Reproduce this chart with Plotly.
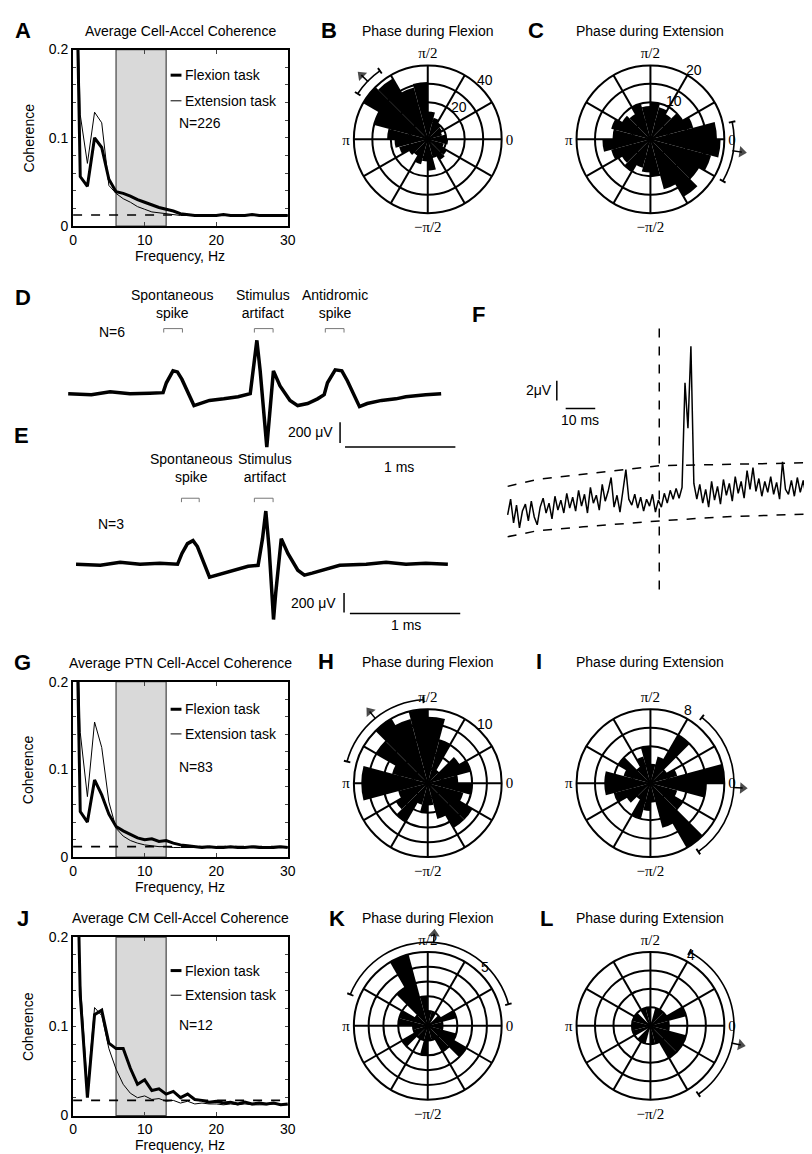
import plotly.graph_objects as go
import numpy as np

W, H = 812, 1154
SANS = "Liberation Sans"
SERIF = "Liberation Serif"

# ---------------- coherence spectra (A, G, J), ~1 Hz resolution
freq = np.arange(0, 31)

all_flex = [0.50, 0.056, 0.045, 0.100, 0.089, 0.053, 0.039, 0.037, 0.034, 0.030, 0.027,
            0.024, 0.021, 0.019, 0.017, 0.014, 0.013, 0.012, 0.012, 0.012, 0.012,
            0.013, 0.012, 0.012, 0.012, 0.013, 0.012, 0.012, 0.012, 0.012, 0.012]
all_ext = [0.45, 0.126, 0.071, 0.129, 0.117, 0.046, 0.037, 0.031, 0.027, 0.022, 0.019,
           0.016, 0.015, 0.014, 0.013, 0.012, 0.012, 0.012, 0.012, 0.012, 0.012,
           0.012, 0.012, 0.012, 0.012, 0.012, 0.012, 0.012, 0.012, 0.012, 0.012]
all_sig = 0.0125

ptn_flex = [0.50, 0.052, 0.040, 0.088, 0.071, 0.049, 0.035, 0.030, 0.026, 0.022, 0.020,
            0.021, 0.018, 0.019, 0.016, 0.014, 0.013, 0.012, 0.011, 0.012, 0.011,
            0.011, 0.012, 0.011, 0.011, 0.012, 0.011, 0.011, 0.011, 0.012, 0.011]
ptn_ext = [0.45, 0.142, 0.069, 0.154, 0.125, 0.063, 0.033, 0.024, 0.019, 0.016, 0.014,
           0.013, 0.012, 0.012, 0.011, 0.011, 0.011, 0.011, 0.011, 0.011, 0.011,
           0.011, 0.011, 0.011, 0.011, 0.011, 0.011, 0.011, 0.011, 0.011, 0.011]
ptn_sig = 0.012

cm_flex = [0.50, 0.135, 0.020, 0.113, 0.118, 0.081, 0.075, 0.075, 0.053, 0.035, 0.040,
           0.028, 0.030, 0.024, 0.027, 0.020, 0.024, 0.018, 0.017, 0.015, 0.016,
           0.014, 0.015, 0.013, 0.015, 0.013, 0.014, 0.013, 0.014, 0.012, 0.013]
cm_ext = [0.45, 0.150, 0.030, 0.121, 0.112, 0.075, 0.052, 0.035, 0.025, 0.020, 0.022,
          0.018, 0.019, 0.016, 0.017, 0.014, 0.016, 0.013, 0.014, 0.013, 0.013,
          0.012, 0.013, 0.012, 0.013, 0.012, 0.012, 0.012, 0.013, 0.012, 0.012]
cm_sig = 0.017

coh_yticks = [0, 0.02, 0.04, 0.06, 0.08, 0.1, 0.12, 0.14, 0.16, 0.18, 0.2]
coh_ylabels = ["0", "", "", "", "", "0.1", "", "", "", "", "0.2"]

# ---------------- spike-triggered traces (D, E), ms / microvolt
d_t = [0, 0.21, 0.38, 0.56, 0.74, 0.86, 0.89, 0.95, 0.99, 1.03, 1.14, 1.19, 1.28, 1.41, 1.54,
       1.65, 1.71, 1.74, 1.80, 1.86, 1.92, 2.01, 2.08, 2.17, 2.26, 2.32, 2.35, 2.42, 2.48,
       2.53, 2.64, 2.71, 2.84, 2.97, 3.06, 3.24, 3.38]
d_v = [0, -10, 19, 0, 5, 10, 105, 220, 210, 140, -115, -95, -65, -50, -30,
       0, 515, 220, -515, 220, 75, -65, -115, -95, -50, -10, 105, 230, 220,
       125, -125, -95, -65, -50, -30, -10, 0]

e_t = [0, 0.22, 0.40, 0.58, 0.76, 0.92, 0.96, 1.01, 1.06, 1.10, 1.21, 1.30, 1.43, 1.56, 1.65,
       1.69, 1.72, 1.75, 1.79, 1.81, 1.86, 1.92, 2.01, 2.07, 2.14, 2.28, 2.39, 2.63, 2.81,
       2.99, 3.17, 3.37]
e_v = [0, -10, 20, 0, 10, 0, 110, 210, 240, 180, -130, -100, -60, -20, -10,
       260, 540, 160, -560, -290, 260, 110, -60, -110, -90, -40, -10, 0, 20,
       0, 10, 0]

# ---------------- post-stimulus average (F), 1 ms bins, microvolt
f_t = np.arange(103) - 51.3
f_v = [-0.6, 1.0, -1.4, 0.4, -1.9, -0.2, 0.5, -1.2, 0.8, -0.8, -1.6, 0.2, 1.1, -0.4, 0.6, -1.0,
       1.3, -0.1, 0.9, -0.4,
       1.6, 0.1, 1.2, -0.2, 1.9, 0.3, 1.5, -0.4, 2.2, 0.6, 1.4, -0.1, 2.5, 0.8, 1.8, 3.2,
       0.2, 1.4, -0.3, 1.7,
       4.0, 1.0, 0.4, 1.5, 0.1, 1.2, -0.2, 1.0, 0.3, 1.5, -0.3, 0.9, 0.2, 1.6, 0.6, 1.9,
       1.0, 2.1, 1.1, 2.2,
       12.8, 8.2, 16.5,
       2.6, 1.0, 2.5, 0.6, 2.0, 0.2, 2.8, 0.9, 2.3, 0.5, 3.0, 1.4, 2.6, 0.8, 3.3, 1.6,
       2.8, 1.1, 3.9, 2.0, 4.2, 1.8, 3.1, 1.3, 2.8, 1.7, 3.3, 1.5, 2.7, 1.0, 4.8, 2.0,
       1.5, 2.9, 1.3, 3.2, 1.7, 2.9, 1.2, 2.4]
f_hi_t = [-51.3, -41.3, 0, 51]
f_hi_v = [2.3, 3.0, 4.4, 4.7]
f_lo_t = [-51.3, -41.3, -25.7, 0, 21, 51]
f_lo_v = [-2.8, -2.2, -1.8, -1.2, -0.8, -0.5]

# ---------------- phase histograms (B, C, H, I, K, L), 24 bins of 15 deg
bin_deg = np.arange(7.5, 360, 15)
b_counts = [10, 8, 9, 10, 12, 15, 31, 29, 38, 40, 30, 22, 18, 16, 12, 10, 14, 12, 17, 10, 13, 12, 9, 11]
c_counts = [18, 12, 10, 8, 9, 10, 9, 10, 8, 9, 11, 10, 13, 11, 9, 10, 8, 9, 10, 14, 18, 15, 17, 19]
h_counts = [4, 6, 5, 2, 6, 9, 10, 9, 10, 8, 5, 9, 9, 4, 5, 6, 3, 4, 3, 5, 7, 7, 5, 6]
i_counts = [8, 3, 2, 6, 3, 2, 4, 3, 2, 4, 3, 5, 5, 4, 3, 2, 4, 3, 2, 5, 8, 4, 3, 6]
k_counts = [1, 2, 1, 0, 1, 1, 2, 5, 3, 1, 2, 2, 1, 1, 2, 1, 1, 2, 1, 1, 2, 3, 2, 1]
l_counts = [1, 2, 1, 1, 1, 0, 1, 1, 0, 1, 1, 1, 1, 1, 0, 1, 1, 0, 1, 1, 2, 2, 2, 1]

# mean phase and confidence limits, degrees
b_phase = (136, 125, 147)
c_phase = (-8, -30, 12)
h_phase = (129, 93, 165)
i_phase = (-3, -55, 52)
k_phase = (86, 15, 158)
l_phase = (-12, -55, 62)

spoke_deg = [0, 30, 60, 90, 120, 150, 180, 210, 240, 270, 300, 330]
spoke_txt = ["0", "", "", "π/2", "", "", "π", "", "", "−π/2", "", ""]

fig = go.Figure()


def px(x, y):
    return x / W, 1 - y / H


def note(x, y, text, size=14, family=SANS, xanchor="center", angle=0, bold=False):
    xx, yy = px(x, y)
    fig.add_annotation(x=xx, y=yy, xref="paper", yref="paper", text=f"<b>{text}</b>" if bold else text,
                       showarrow=False, xanchor=xanchor, yanchor="middle", textangle=angle,
                       font=dict(family=family, size=size, color="black"))


def pline(x0, y0, x1, y1, width=1.0, color="black"):
    a, b = px(x0, y0)
    c, d = px(x1, y1)
    fig.add_shape(type="line", xref="paper", yref="paper", x0=a, y0=b, x1=c, y1=d,
                  line=dict(color=color, width=width))


def bracket(x0, x1, y, color="#777"):
    a, b = px(x0, y + 4)
    c, d = px(x1, y)
    fig.add_shape(type="path", xref="paper", yref="paper",
                  path=f"M {a} {b} L {a} {d} L {c} {d} L {c} {b}",
                  line=dict(color=color, width=1))


# ---------------- coherence panels
coh_panels = [
    (1, 34, 213, all_flex, all_ext, all_sig, "Average Cell-Accel Coherence", "A", "N=226", (60, 86, 108)),
    (2, 675, 853, ptn_flex, ptn_ext, ptn_sig, "Average PTN Cell-Accel Coherence", "G", "N=83", (703, 728, 762)),
    (3, 934, 1115, cm_flex, cm_ext, cm_sig, "Average CM Cell-Accel Coherence", "J", "N=12", (968, 993, 1023)),
]
layout_axes = {}
for n, top, bot, flex, ext, sig, title, letter, ntxt, leg in coh_panels:
    xname = "x" if n == 1 else f"x{n}"
    yname = "y" if n == 1 else f"y{n}"
    fig.add_trace(go.Scatter(x=freq, y=ext, mode="lines", line=dict(color="black", width=1),
                             xaxis=xname, yaxis=yname))
    fig.add_trace(go.Scatter(x=freq, y=flex, mode="lines", line=dict(color="black", width=3),
                             xaxis=xname, yaxis=yname))
    fig.add_trace(go.Scatter(x=[0, 30], y=[sig, sig], mode="lines",
                             line=dict(color="black", width=1.6, dash="dash"),
                             xaxis=xname, yaxis=yname))
    layout_axes["xaxis" if n == 1 else f"xaxis{n}"] = dict(
        domain=[62 / W, 280 / W], range=[0, 30], tickvals=[0, 10, 20, 30], ticks="inside",
        ticklen=4, showline=True, linewidth=2, linecolor="black", mirror="ticks",
        showgrid=False, zeroline=False, anchor=yname, tickfont=dict(size=14))
    layout_axes["yaxis" if n == 1 else f"yaxis{n}"] = dict(
        domain=[1 - bot / H, 1 - top / H], range=[0, 0.2], tickvals=coh_yticks,
        ticktext=coh_ylabels, ticks="inside", ticklen=3, showline=True, linewidth=2,
        linecolor="black", mirror="ticks", showgrid=False, zeroline=False, anchor=xname,
        tickfont=dict(size=14))
    fig.add_shape(type="rect", xref=xname, yref=f"{yname} domain", x0=6, x1=13, y0=0, y1=1,
                  fillcolor="#d9d9d9", line=dict(color="#444", width=1.2), layer="below")
    note(171, top - 19, title)
    note(11, top - 19, letter, size=22, bold=True)
    note(17, (top + bot) / 2, "Coherence", angle=-90)
    note(171, bot + 30, "Frequency, Hz")
    pline(161, leg[0], 172, leg[0], width=3)
    pline(161, leg[1], 172, leg[1], width=1)
    note(174, leg[0], "Flexion task", xanchor="left")
    note(174, leg[1], "Extension task", xanchor="left")
    note(167, leg[2], ntxt, xanchor="left")

# ---------------- D and E traces
fig.add_trace(go.Scatter(x=d_t, y=d_v, mode="lines", line=dict(color="black", width=3.5),
                         xaxis="x4", yaxis="y4"))
fig.add_trace(go.Scatter(x=e_t, y=e_v, mode="lines", line=dict(color="black", width=3.5),
                         xaxis="x5", yaxis="y5"))
blank = dict(visible=False, showgrid=False, zeroline=False)
layout_axes["xaxis4"] = dict(domain=[40 / W, 460 / W], range=[-0.152, 3.598], anchor="y4", **blank)
layout_axes["yaxis4"] = dict(domain=[1 - 450 / H, 1 - 300 / H], range=[-638, 790], anchor="x4", **blank)
layout_axes["xaxis5"] = dict(domain=[40 / W, 460 / W], range=[-0.223, 3.527], anchor="y5", **blank)
layout_axes["yaxis5"] = dict(domain=[1 - 630 / H, 1 - 480 / H], range=[-740, 760], anchor="x5", **blank)

for xr, yr, tx, y0, y1, yh, h0 in [("x4", "y4", 2.464, -276, -476, -514, 2.509),
                                   ("x5", "y5", 2.429, -290, -490, -500, 2.482)]:
    fig.add_shape(type="line", xref=xr, yref=yr, x0=tx, x1=tx, y0=y0, y1=y1, line=dict(color="black", width=1.5))
    fig.add_shape(type="line", xref=xr, yref=yr, x0=h0, x1=h0 + 1, y0=yh, y1=yh, line=dict(color="black", width=1.5))

note(11, 285, "D", size=22, bold=True)
note(163, 292, "Spontaneous<br>spike")
note(255, 292, "Stimulus<br>artifact")
note(328, 292, "Antidromic<br>spike")
note(101, 320, "N=6")
bracket(154, 173, 317)
bracket(246, 265, 317)
bracket(318, 337, 317)
note(328, 422, "200 μV", xanchor="right")
note(393, 457, "1 ms")

note(10, 425, "E", size=22, bold=True)
note(182, 458, "Spontaneous<br>spike")
note(257, 458, "Stimulus<br>artifact")
note(100, 515, "N=3")
bracket(172, 190, 489)
bracket(246, 265, 489)
note(331, 595, "200 μV", xanchor="right")
note(400, 618, "1 ms")

# ---------------- F
fig.add_trace(go.Scatter(x=f_t, y=f_v, mode="lines", line=dict(color="black", width=1.5),
                         xaxis="x6", yaxis="y6"))
for tt, vv in [(f_hi_t, f_hi_v), (f_lo_t, f_lo_v)]:
    fig.add_trace(go.Scatter(x=tt, y=vv, mode="lines", line=dict(color="black", width=1.5, dash="dash"),
                             xaxis="x6", yaxis="y6"))
fig.add_trace(go.Scatter(x=[0, 0], y=[18.3, -9], mode="lines", line=dict(color="black", width=1.5, dash="dash"),
                         xaxis="x6", yaxis="y6"))
layout_axes["xaxis6"] = dict(domain=[500 / W, 1], range=[-52.33, 51.67], anchor="y6", **blank)
layout_axes["yaxis6"] = dict(domain=[1 - 600 / H, 1 - 310 / H], range=[-10, 19], anchor="x6", **blank)
fig.add_shape(type="line", xref="x6", yref="y6", x0=-34.67, x1=-34.67, y0=11, y1=13, line=dict(color="black", width=1.5))
fig.add_shape(type="line", xref="x6", yref="y6", x0=-31.67, x1=-21.67, y0=10.2, y1=10.2, line=dict(color="black", width=1.5))
note(474, 303, "F", size=22, bold=True)
note(550, 379, "2μV", xanchor="right")
note(577, 410, "10 ms")

# ---------------- polar panels
R = 75
polar_panels = [
    (422, 125, 40, [10, 20, 30, 40], [20, 40], 46, b_counts, b_phase, "Phase during Flexion", "B", 322),
    (648, 125, 20, [5, 10, 15, 20], [10, 20], 58, c_counts, c_phase, "Phase during Extension", "C", 532),
    (422, 778, 10, [2, 4, 6, 8, 10], [10], 46, h_counts, h_phase, "Phase during Flexion", "H", 319),
    (648, 778, 8, [2, 4, 6, 8], [8], 63, i_counts, i_phase, "Phase during Extension", "I", 535),
    (422, 1024, 5, [1, 2, 3, 4, 5], [5], 46, k_counts, k_phase, "Phase during Flexion", "K", 330),
    (648, 1024, 4, [1, 2, 3, 4], [4], 60, l_counts, l_phase, "Phase during Extension", "L", 543),
]
title_y = {125: 15, 778: 655, 1024: 915}
for i, (cx, cy, rmax, rings, shown, lab_ang, counts, phase, title, letter, lx) in enumerate(polar_panels):
    main = "polar" if i == 0 else f"polar{i + 1}"
    over = f"polar{i + 7}"
    fig.add_trace(go.Barpolar(r=counts, theta=bin_deg, width=[15] * len(counts),
                              marker=dict(color="black", line=dict(width=0)), subplot=main))
    layout_axes[main] = dict(
        domain=dict(x=[(cx - R) / W, (cx + R) / W], y=[1 - (cy + R) / H, 1 - (cy - R) / H]),
        bgcolor="white",
        radialaxis=dict(range=[0, rmax], tickvals=rings, showticklabels=False,
                        showline=False, ticks="", showgrid=True, gridcolor="black", gridwidth=1.5),
        angularaxis=dict(tickvals=spoke_deg, ticktext=spoke_txt, direction="counterclockwise",
                         rotation=0, showgrid=True, gridcolor="black", gridwidth=1.5, showline=True,
                         linecolor="black", linewidth=2, ticks="",
                         tickfont=dict(family=SERIF, size=15, color="black")))
    # ring labels sit just outside their ring, MATLAB style
    a = np.deg2rad(lab_ang)
    for r in shown:
        d = R * r / rmax + 8
        note(cx + d * np.cos(a), cy - d * np.sin(a), str(r))
    R2 = 1.3 * R
    mean, lo, hi = phase
    layout_axes[over] = dict(
        domain=dict(x=[(cx - R2) / W, (cx + R2) / W], y=[1 - (cy + R2) / H, 1 - (cy - R2) / H]),
        bgcolor="rgba(0,0,0,0)",
        radialaxis=dict(range=[0, 1.3], visible=False),
        angularaxis=dict(visible=False, direction="counterclockwise", rotation=0))
    fig.add_trace(go.Barpolar(r=[0.022], base=[1.12], theta=[(lo + hi) / 2], width=[hi - lo],
                              marker=dict(color="black", line=dict(width=0)), subplot=over))
    fig.add_trace(go.Barpolar(r=[0.09, 0.09], base=[1.085, 1.085], theta=[lo, hi], width=[1.3, 1.3],
                              marker=dict(color="black", line=dict(width=0)), subplot=over))
    fig.add_trace(go.Scatterpolar(r=[1.12, 1.25], theta=[mean, mean], mode="lines+markers",
                                  line=dict(color="black", width=1.5),
                                  marker=dict(symbol=["circle", "triangle-up"], size=[0, 10],
                                              angleref="previous", color="black",
                                              line=dict(width=0)),
                                  subplot=over))
    note(cx, title_y[cy], title)
    note(lx, title_y[cy], letter, size=22, bold=True)

fig.update_layout(width=W, height=H, margin=dict(l=0, r=0, t=0, b=0), paper_bgcolor="white",
                  plot_bgcolor="rgba(0,0,0,0)", showlegend=False,
                  font=dict(family=SANS, size=14, color="black"), **layout_axes)

fig.write_html("out.html")
